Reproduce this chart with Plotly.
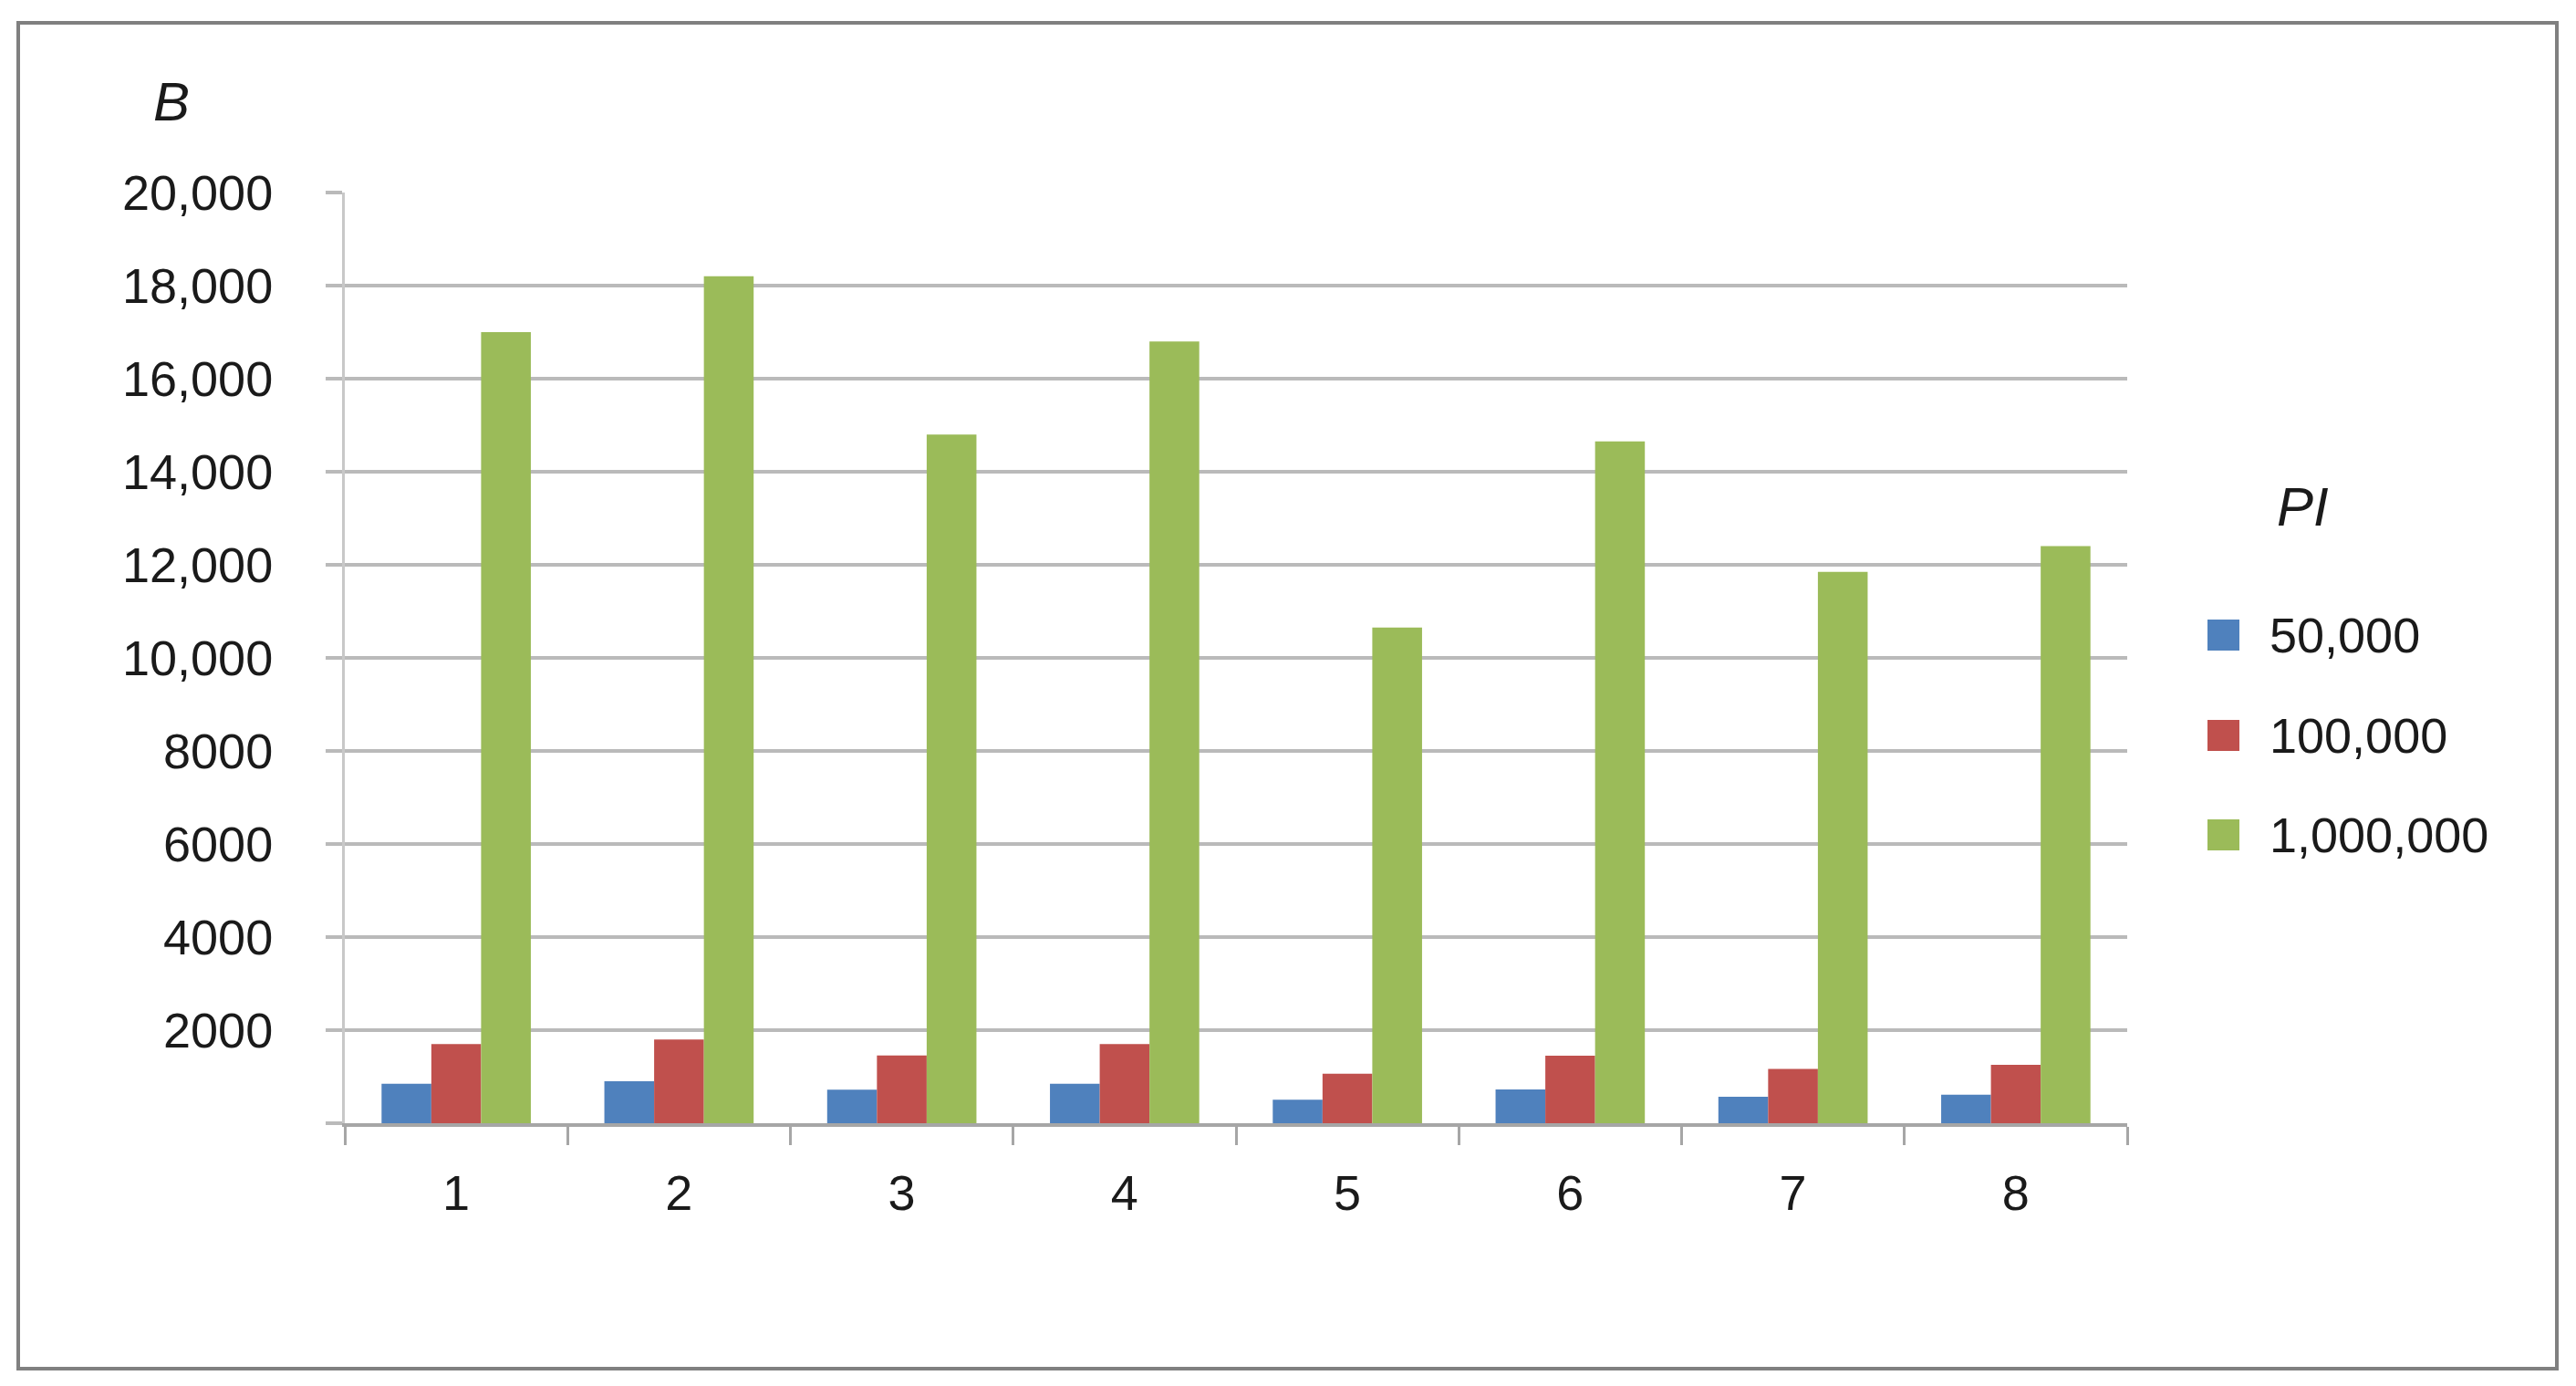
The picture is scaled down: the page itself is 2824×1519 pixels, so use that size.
import plotly.graph_objects as go

# data
categories = ["1", "2", "3", "4", "5", "6", "7", "8"]
series_names = ["50,000", "100,000", "1,000,000"]
values_50k = [850, 900, 720, 850, 505, 725, 570, 615]
values_100k = [1700, 1800, 1455, 1700, 1065, 1450, 1165, 1255]
values_1m = [17000, 18200, 14800, 16800, 10650, 14650, 11850, 12400]
colors = ["#4F81BD", "#C0504D", "#9BBB59"]
y_tickvals = [0, 2000, 4000, 6000, 8000, 10000, 12000, 14000, 16000, 18000, 20000]
y_ticktext = ["", "2000", "4000", "6000", "8000", "10,000", "12,000", "14,000",
              "16,000", "18,000", "20,000"]

# page body has an 8px margin, so the figure is shifted by that much
OFF = 8
W, H = 2824 - 2 * OFF, 1519 - 2 * OFF
L, R, T, B = 378, 2332, 211, 1231  # plot area in reference pixels
FONT = "Liberation Sans, Arial, sans-serif"


def px_x(px):
    return (px - L) / (R - L)


def px_y(py):
    return (B - py) / (B - T)


fig = go.Figure()
for name, vals, col in zip(series_names, [values_50k, values_100k, values_1m], colors):
    fig.add_trace(go.Bar(x=categories, y=vals, name=name, marker_color=col,
                         marker_line_width=0, showlegend=False))

fig.update_layout(
    width=W, height=H,
    margin=dict(l=L - OFF, r=W - (R - OFF), t=T - OFF, b=H - (B - OFF)),
    paper_bgcolor="white", plot_bgcolor="white",
    barmode="group", bargap=0.33, bargroupgap=0,
    font=dict(family=FONT, size=54, color="#1a1a1a"),
)
fig.update_xaxes(
    type="category", showline=True, linecolor="#A6A6A6", linewidth=4,
    ticks="outside", tickson="boundaries", ticklen=20, tickwidth=3, tickcolor="#A6A6A6",
    ticklabelstandoff=26, showgrid=False,
)
fig.update_yaxes(
    range=[0, 20000], tickvals=y_tickvals, ticktext=y_ticktext,
    showgrid=True, gridcolor="#BABABA", gridwidth=4, zeroline=False,
    showline=True, linecolor="#C8C8C8", linewidth=3,
    ticks="outside", ticklen=18, tickwidth=4, tickcolor="#BABABA",
    ticklabelstandoff=47,
)

# outer frame
fig.add_shape(type="rect", xref="paper", yref="paper",
              x0=px_x(20), x1=px_x(2803), y0=px_y(1500), y1=px_y(25),
              line=dict(color="#808080", width=4), fillcolor="rgba(0,0,0,0)", layer="below")

# axis title B
fig.add_annotation(text="<i>B</i>", xref="paper", yref="paper", x=px_x(188), y=px_y(112),
                   xanchor="center", yanchor="middle",
                   showarrow=False, font=dict(size=60, family=FONT))

# legend drawn by hand so the swatches match the reference size
fig.add_annotation(text="<i>PI</i>", xref="paper", yref="paper", x=px_x(2524), y=px_y(555),
                   xanchor="center", yanchor="middle",
                   showarrow=False, font=dict(size=60, family=FONT))
legend_y = [696, 806, 915]
for name, col, ly in zip(series_names, colors, legend_y):
    fig.add_shape(type="rect", xref="paper", yref="paper",
                  x0=px_x(2420), x1=px_x(2455), y0=px_y(ly + 17), y1=px_y(ly - 17),
                  line_width=0, fillcolor=col)
    fig.add_annotation(text=name, xref="paper", yref="paper", x=px_x(2486), y=px_y(ly),
                       xanchor="left", yanchor="middle",
                       showarrow=False, font=dict(size=54, family=FONT))

fig.write_html("out.html")
